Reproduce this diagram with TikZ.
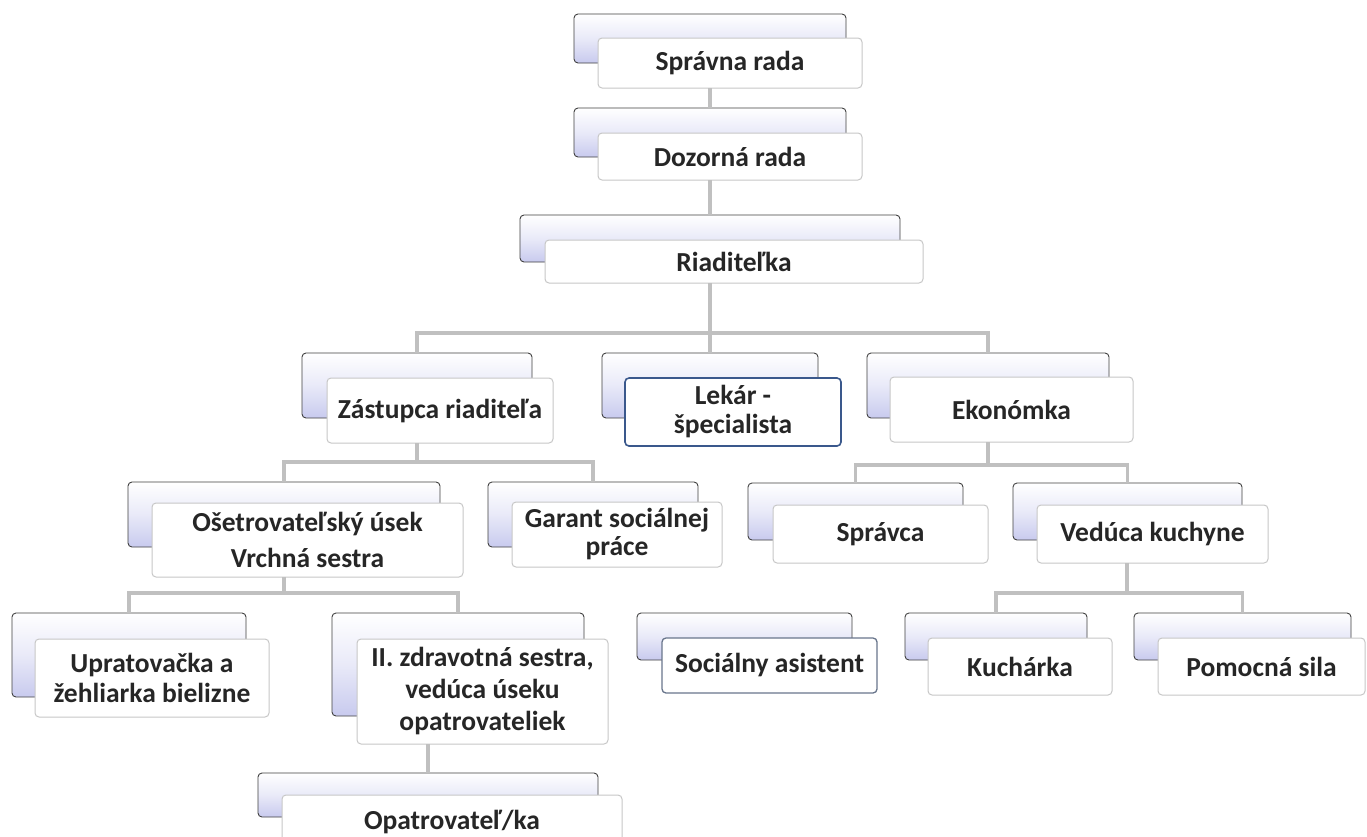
\documentclass[tikz,border=0pt]{standalone}
\usepackage{fontspec}
\setmainfont{Carlito}
\usetikzlibrary{fit}
\definecolor{lav}{RGB}{200,202,238}
\definecolor{txt}{RGB}{38,38,38}
\definecolor{conn}{RGB}{192,192,192}
\definecolor{lekblue}{RGB}{58,88,140}
\definecolor{socblue}{RGB}{105,118,140}
\newcommand{\frbox}[7]{%
  \pgfmathsetmacro\frcx{(#2+#4)/2}%
  \pgfmathsetmacro\frcy{(#3+#5)/2}%
  \pgfmathsetmacro\frww{#4-#2}%
  \pgfmathsetmacro\frhh{#5-#3}%
  \node[frontbox,#6,minimum width=\frww pt,minimum height=\frhh pt] (#1) at (\frcx,\frcy) {#7};}
\begin{document}
\begin{tikzpicture}[x=1pt,y=-1pt,
  backbox/.style={draw=black!75, line width=0.9pt, rounded corners=4pt, top color=white, bottom color=lav, middle color=white!60!lav, inner sep=0pt, outer sep=0pt},
  frontbox/.style={draw=black!22, line width=1pt, rounded corners=4pt, fill=white, inner sep=0pt, outer sep=0pt, align=center, text=txt, font=\fontsize{27.5}{31}\selectfont\bfseries},
  link/.style={draw=conn, line width=3.2pt}]
\clip (0,0) rectangle (1367,836);
\fill[white] (0,0) rectangle (1367,836);

% level 1-3
\node[backbox, fit={(574,14) (846,63)}] (b1) {};
\frbox{f1}{598}{38}{862}{88}{}{Správna rada}
\node[backbox, fit={(574,108) (846,157)}] (b2) {};
\frbox{f2}{598}{133}{862}{180}{}{Dozorná rada}
\node[backbox, fit={(520,215) (900,262)}] (b3) {};
\frbox{f3}{545}{240}{923}{283}{}{Riaditeľka}

% level 4
\node[backbox, fit={(302,353) (532,418)}] (b4) {};
\frbox{f4}{327}{378}{553}{443}{}{Zástupca riaditeľa}
\node[backbox, fit={(602,353) (818,418)}] (b5) {};
\frbox{f5}{625}{378}{841}{446}{draw=lekblue, line width=1.6pt}{Lekár -\\[-2pt]špecialista}
\node[backbox, fit={(867,353) (1109,418)}] (b6) {};
\frbox{f6}{890}{377}{1133}{442}{}{Ekonómka}

% level 5
\node[backbox, fit={(128,482) (440,547)}] (b7) {};
\frbox{f7}{152}{503}{463}{577}{}{Ošetrovateľský úsek\\[5pt]Vrchná sestra}
\node[backbox, fit={(488,482) (698,547)}] (b8) {};
\frbox{f8}{512}{502}{722}{567}{}{Garant sociálnej\\[-3pt]práce}
\node[backbox, fit={(748,483) (963,540)}] (b9) {};
\frbox{f9}{773}{505}{988}{563}{}{Správca}
\node[backbox, fit={(1013,483) (1242,540)}] (b10) {};
\frbox{f10}{1037}{505}{1268}{563}{}{Vedúca kuchyne}

% level 6
\node[backbox, fit={(12,613) (246,697)}] (b11) {};
\frbox{f11}{35}{639}{269}{717}{}{Upratovačka a\\[-1pt]žehliarka bielizne}
\node[backbox, fit={(332,613) (584,716)}] (b12) {};
\frbox{f12}{357}{639}{608}{744}{}{II. zdravotná sestra,\\[1pt]vedúca úseku\\[1pt]opatrovateliek}
\node[backbox, fit={(637,613) (852,660)}] (b14) {};
\frbox{f14}{662}{638}{877}{693}{draw=socblue, line width=1.3pt}{Sociálny asistent}
\node[backbox, fit={(905,613) (1087,660)}] (b15) {};
\frbox{f15}{928}{638}{1112}{695}{}{Kuchárka}
\node[backbox, fit={(1134,613) (1351,660)}] (b16) {};
\frbox{f16}{1158}{638}{1365}{695}{}{Pomocná sila}

% level 7
\node[backbox, fit={(258,773) (598,817)}] (b13) {};
\frbox{f13}{282}{795}{622}{849}{}{Opatrovateľ/ka}

% connectors
\coordinate (bus1) at (710,333);
\coordinate (bus2) at (417,462);
\coordinate (bus3) at (988,465);
\coordinate (bus4) at (284,593);
\coordinate (bus5) at (1127,593);

\draw[link] (f1.south -| b2.north) -- (b2.north);
\draw[link] (f2.south -| b3.north) -- (b3.north);
\draw[link] (f3.south -| bus1) -- (bus1);
\draw[link] (b4.north) |- (bus1) -| (b6.north);
\draw[link] (bus1) -- (b5.north);
\draw[link] (f4.south -| bus2) -- (bus2);
\draw[link] (b7.north) |- (bus2) -| (b8.north);
\draw[link] (f6.south -| bus3) -- (bus3);
\draw[link] (b9.north) |- (bus3) -| (b10.north);
\draw[link] (f7.south -| bus4) -- (bus4);
\draw[link] (b11.north) |- (bus4) -| (b12.north);
\draw[link] (f12.south -| b13.north) -- (b13.north);
\draw[link] (f10.south -| bus5) -- (bus5);
\draw[link] (b15.north) |- (bus5) -| (b16.north);
\end{tikzpicture}
\end{document}
